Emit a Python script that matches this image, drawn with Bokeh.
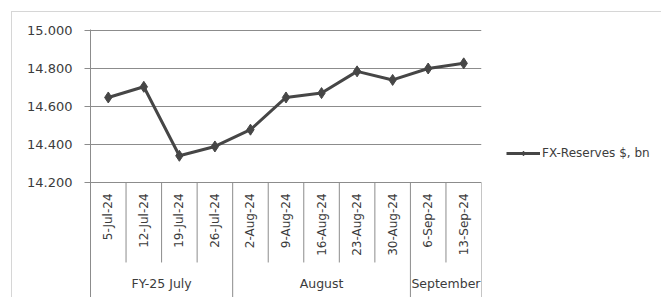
import math
from bokeh.plotting import figure
from bokeh.models import (FactorRange, Range1d, FixedTicker, PrintfTickFormatter,
                          ColumnDataSource, Legend, LegendItem)
from bokeh.core.properties import value
from bokeh.embed import file_html
from bokeh.resources import INLINE

# ---------------- data ----------------
dates = ["5-Jul-24", "12-Jul-24", "19-Jul-24", "26-Jul-24",
         "2-Aug-24", "9-Aug-24", "16-Aug-24", "23-Aug-24", "30-Aug-24",
         "6-Sep-24", "13-Sep-24"]
groups = ["FY-25 July", "August", "September"]
group_sizes = [4, 5, 2]
fx_reserves = [14.646, 14.702, 14.340, 14.389, 14.477, 14.646,
               14.669, 14.783, 14.738, 14.798, 14.825]
y_ticks = [14.2, 14.4, 14.6, 14.8, 15.0]
series_name = "FX-Reserves $, bn"

# ---------------- layout ----------------
W, H = 645, 285
LEFT, TOP, RIGHT, BOTTOM = 78, 17, 176, 0
frame_w = W - LEFT - RIGHT
frame_h = H - TOP - BOTTOM
px_per_unit = 190.6                      # pixels per 1.0 of value
y_top = max(y_ticks) + 0.5 / px_per_unit
y_bottom = y_top - frame_h / px_per_unit
base = min(y_ticks)

def below(px):
    """value that sits px pixels below the lowest gridline"""
    return base - px / px_per_unit

TEXT = "#3c3c3c"
GRID = "#8c8c8c"
LINE = "#464646"
FONT = value("DejaVu Sans")

p = figure(frame_width=frame_w, frame_height=frame_h,
           output_backend="svg", toolbar_location=None,
           x_range=FactorRange(factors=dates, range_padding=0),
           y_range=Range1d(y_bottom, y_top),
           x_axis_location=None,
           min_border_left=LEFT, min_border_top=TOP,
           min_border_right=RIGHT, min_border_bottom=BOTTOM)
p.margin = (11, 0, 0, 11)
p.styles = {"border-left": "1px solid #d6d6d6", "border-top": "1px solid #d6d6d6"}
p.outline_line_color = None
p.background_fill_color = "white"
p.border_fill_color = "white"

# y axis
p.yaxis.ticker = FixedTicker(ticks=y_ticks)
p.yaxis.formatter = PrintfTickFormatter(format="%.3f")
p.yaxis.axis_line_color = GRID
p.yaxis.major_tick_line_color = GRID
p.yaxis.major_tick_out = 6
p.yaxis.major_tick_in = 0
p.yaxis.minor_tick_line_color = None
p.yaxis.major_label_standoff = 12
p.yaxis.major_label_text_font = "DejaVu Sans"
p.yaxis.major_label_text_font_size = "13px"
p.yaxis.major_label_text_color = TEXT
p.ygrid.ticker = FixedTicker(ticks=y_ticks)
p.ygrid.grid_line_color = GRID
p.xgrid.grid_line_color = None

# category separators below the plot
bounds = []
ends = []
idx = 0
group_edges = set()
for s in group_sizes:
    idx += s
    group_edges.add(idx)
for i in range(1, len(dates) + 1):
    if i < len(dates):
        bounds.append((dates[i], -0.5))
    else:
        bounds.append((dates[-1], 0.5))
    ends.append(y_bottom if i in group_edges else below(80))
sep = ColumnDataSource(dict(x=bounds, y0=[base] * len(bounds), y1=ends))
p.segment(x0="x", y0="y0", x1="x", y1="y1", source=sep,
          line_color=GRID, line_width=1)

# date labels (vertical)
lab = ColumnDataSource(dict(x=dates, y=[below(11)] * len(dates), t=dates))
p.text(x="x", y="y", text="t", source=lab, angle=math.pi / 2,
       text_align="right", text_baseline="middle", text_font=FONT,
       text_font_size="12px", text_color=TEXT)

# group labels
gx = []
start = 0
for s in group_sizes:
    c = start + (s - 1) / 2
    f = int(math.floor(c))
    gx.append((dates[f], c - f))
    start += s
glab = ColumnDataSource(dict(x=gx, y=[below(101)] * len(groups), t=groups))
p.text(x="x", y="y", text="t", source=glab, text_align="center",
       text_baseline="middle", text_font=FONT, text_font_size="12.5px",
       text_color=TEXT)

# series
src = ColumnDataSource(dict(x=dates, y=fx_reserves))
r1 = p.line(x="x", y="y", source=src, line_color=LINE, line_width=3)
r2 = p.scatter(x="x", y="y", source=src, marker="diamond", size=11,
               fill_color=LINE, line_color=LINE)

legend = Legend(items=[LegendItem(label=series_name, renderers=[r1, r2])],
                location=(25, 137))
legend.border_line_color = None
legend.background_fill_alpha = 0
legend.glyph_width = 34
legend.glyph_height = 12
legend.label_standoff = 2
legend.padding = 0
legend.spacing = 0
legend.margin = 0
legend.label_text_font = "DejaVu Sans"
legend.label_text_font_size = "12px"
legend.label_text_color = TEXT
p.add_layout(legend, "right")

open("out.html", "w").write(file_html(p, INLINE))
